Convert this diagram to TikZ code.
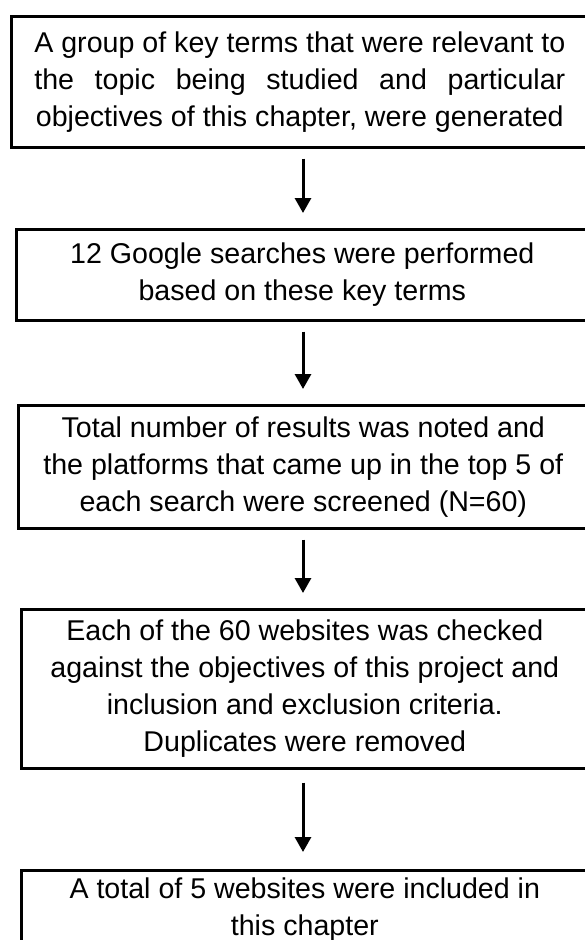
\documentclass[tikz,border=0pt]{standalone}
\usepackage{fontspec}
\setmainfont{Liberation Sans}
\usetikzlibrary{arrows.meta}
\begin{document}
\begin{tikzpicture}[x=1pt,y=-1pt,
  box/.style={draw=black, line width=2.6pt, inner sep=0pt, align=center,
    font=\fontsize{28.6}{37}\selectfont, anchor=north west},
  flow/.style={-{Triangle[length=15pt,width=16pt]}, line width=3pt,
    shorten <=10pt, shorten >=15pt}]
\useasboundingbox (0,0) rectangle (585,940);
\clip (0,0) rectangle (585,940);
\coordinate (ax) at (303,0);
\node[box, minimum width=577pt, minimum height=131pt] (b1) at (10,15)
  {A group of key terms that were relevant to\\
   \makebox[531pt][s]{the topic being studied and particular}\\
   objectives of this chapter, were generated};
\node[box, minimum width=572pt, minimum height=91pt] (b2) at (15,228)
  {12 Google searches were performed\\ based on these key terms};
\node[box, minimum width=570pt, minimum height=123pt] (b3) at (17,404)
  {Total number of results was noted and\\ the platforms that came up in the top 5 of\\ each search were screened (N=60)};
\node[box, minimum width=567pt, minimum height=159pt] (b4) at (20,608)
  {Each of the 60 websites was checked\\ against the objectives of this project and\\ inclusion and exclusion criteria.\\ Duplicates were removed};
\node[box, minimum width=567pt, minimum height=78pt] (b5) at (20,869)
  {A total of 5 websites were included in\\ this chapter};
\draw[flow] (b1.south -| ax) -- (b2.north -| ax);
\draw[flow] (b2.south -| ax) -- (b3.north -| ax);
\draw[flow] (b3.south -| ax) -- (b4.north -| ax);
\draw[flow, shorten <=13pt, shorten >=17pt] (b4.south -| ax) -- (b5.north -| ax);
\end{tikzpicture}
\end{document}
